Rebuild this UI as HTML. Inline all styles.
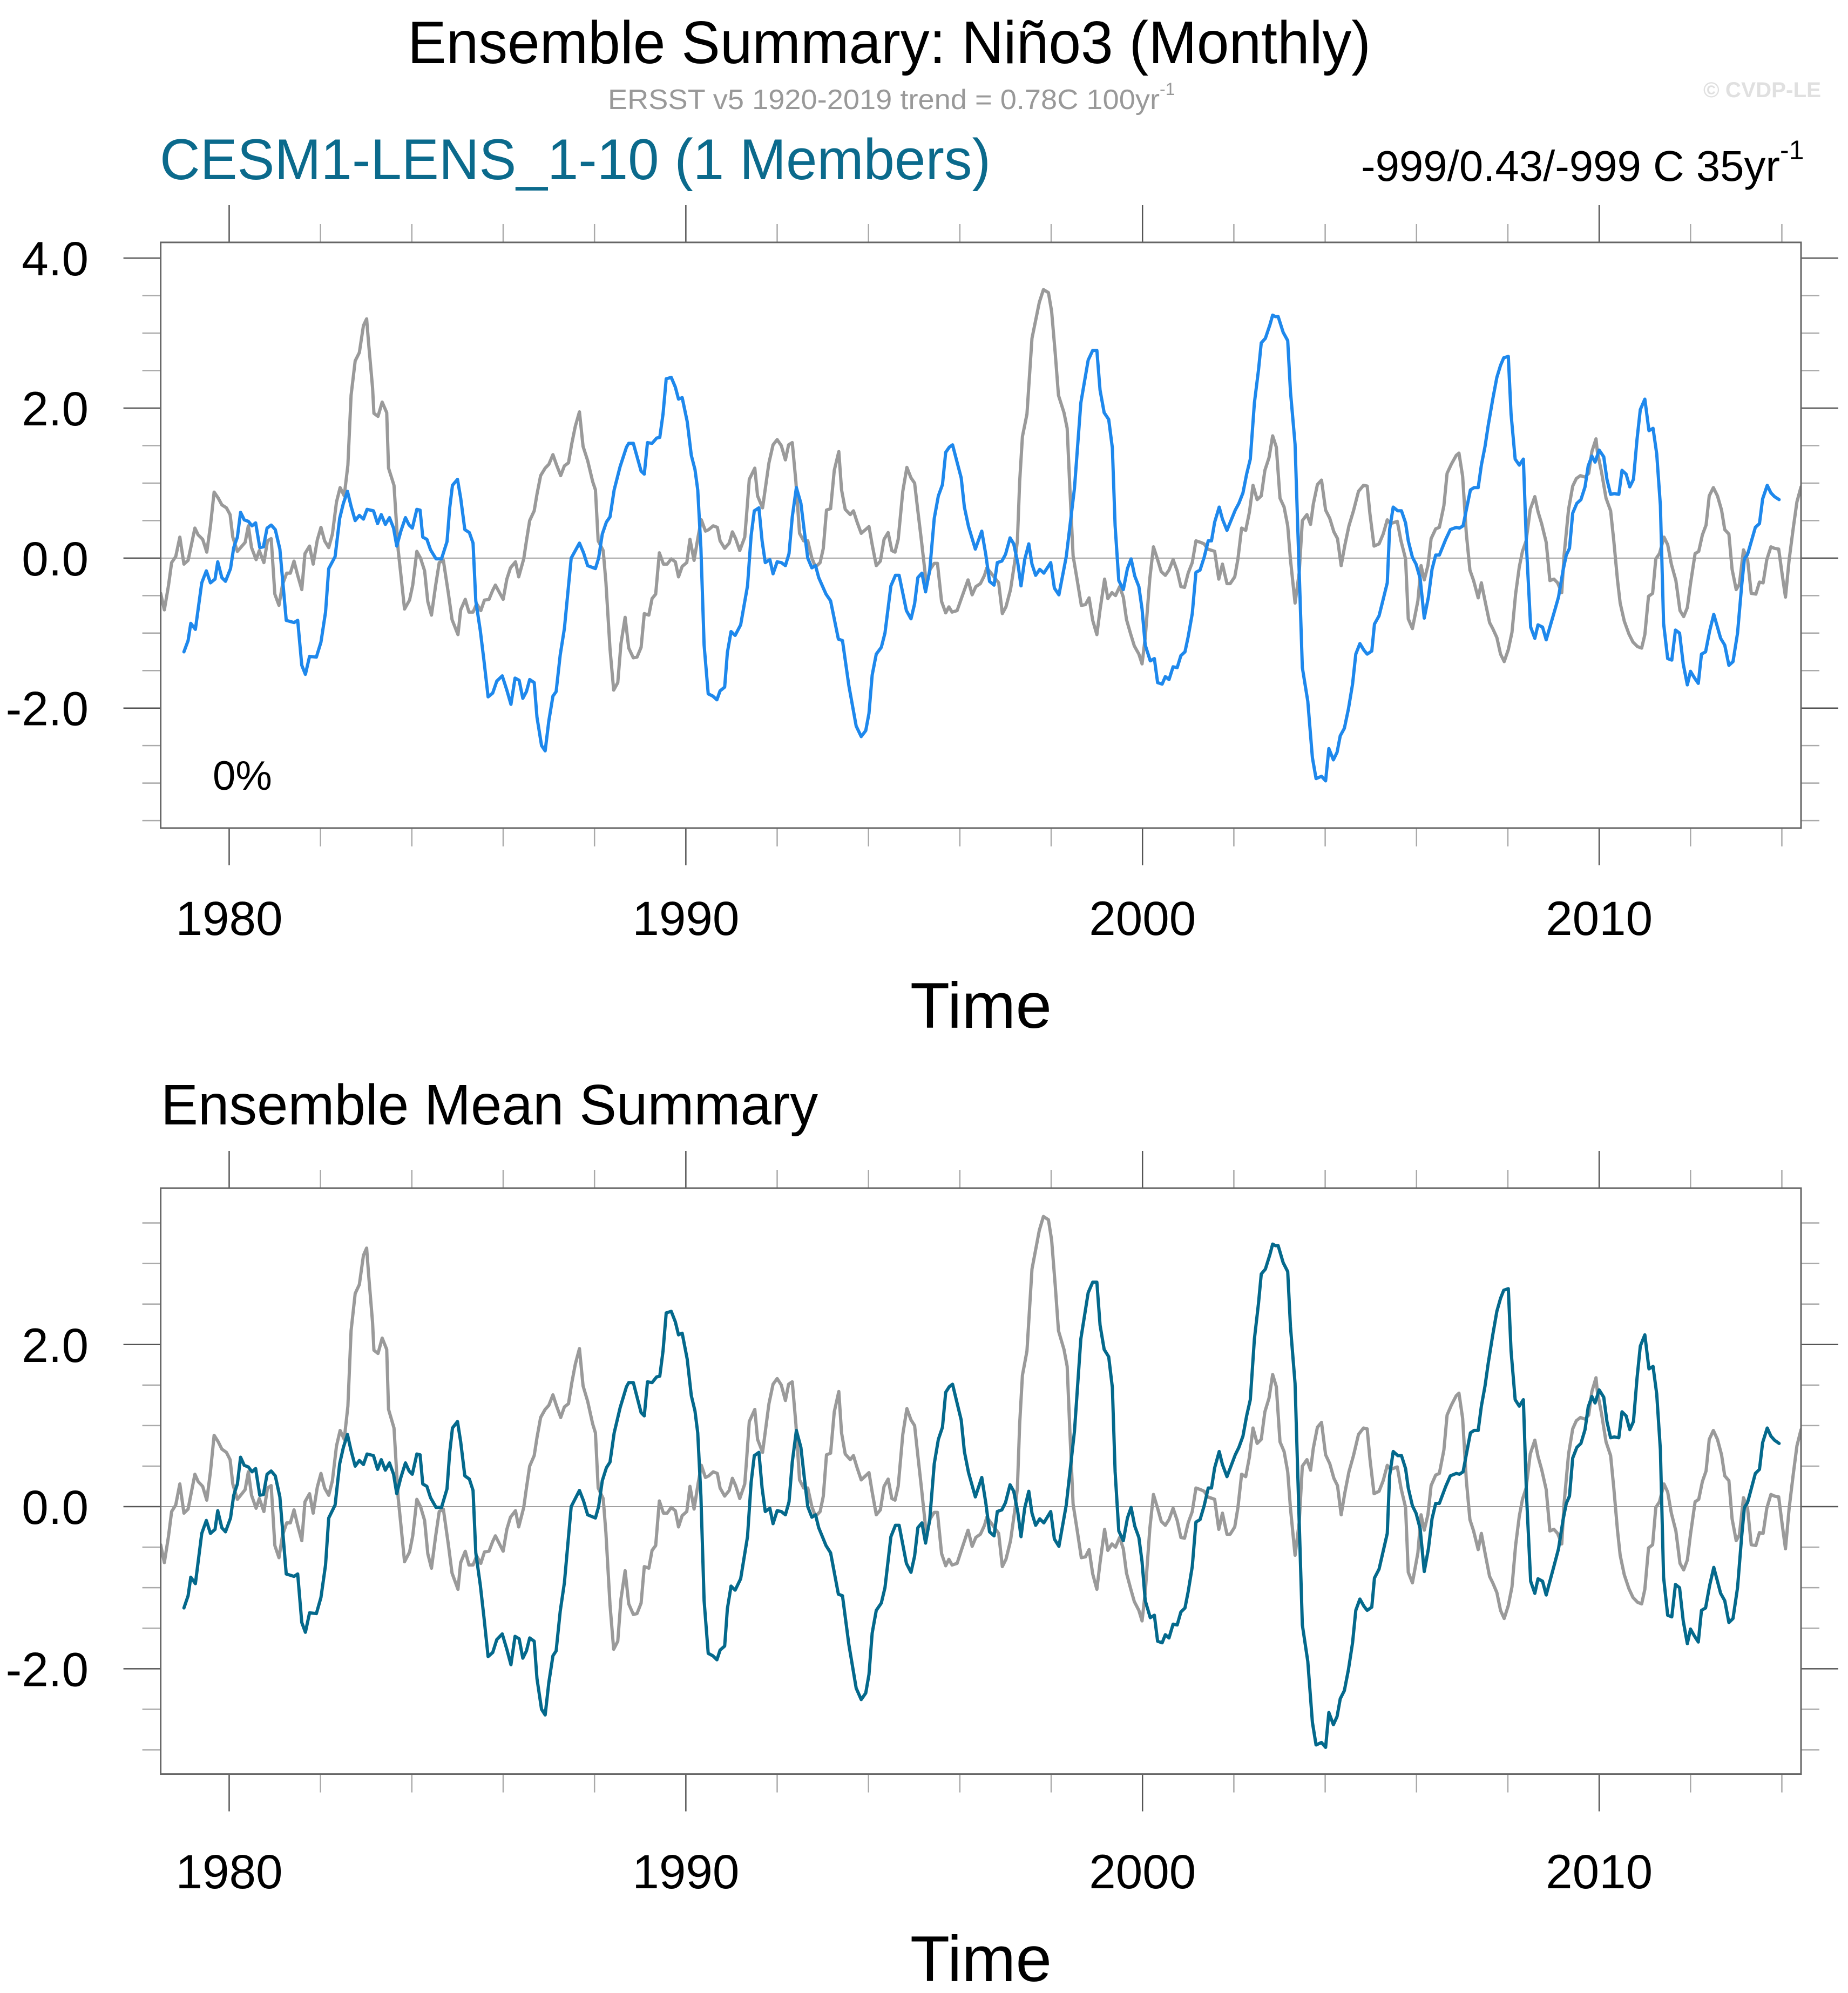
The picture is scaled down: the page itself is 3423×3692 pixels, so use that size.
<!DOCTYPE html>
<html><head><meta charset="utf-8"><style>
html,body{margin:0;padding:0;background:#fff;}
svg{display:block;font-family:"Liberation Sans",Arial,sans-serif;}
</style></head><body>
<svg id="chart" xmlns="http://www.w3.org/2000/svg" width="3423" height="3692" viewBox="0 0 3423 3692">
<rect width="3423" height="3692" fill="#fff"/>
<text x="1647" y="117" font-size="111" text-anchor="middle" textLength="1784" lengthAdjust="spacingAndGlyphs">Ensemble Summary: Niño3 (Monthly)</text>
<text x="1126" y="202" font-size="52" fill="#999"><tspan textLength="1022" lengthAdjust="spacingAndGlyphs">ERSST v5 1920-2019 trend = 0.78C 100yr</tspan><tspan font-size="32" dy="-26">-1</tspan></text>
<text x="3155" y="180" font-size="40" font-weight="bold" fill="#e0e0e0" textLength="218" lengthAdjust="spacingAndGlyphs">© CVDP-LE</text>
<text x="296" y="332" font-size="107" fill="#0b6a8c" textLength="1539" lengthAdjust="spacingAndGlyphs">CESM1-LENS_1-10 (1 Members)</text>
<text x="2521" y="335" font-size="80"><tspan textLength="776" lengthAdjust="spacingAndGlyphs">-999/0.43/-999 C 35yr</tspan><tspan font-size="50" dy="-40">-1</tspan></text>
<text x="298" y="2083" font-size="106" textLength="1217" lengthAdjust="spacingAndGlyphs">Ensemble Mean Summary</text>
<text x="394" y="1463" font-size="76">0%</text>
<g id="p1"></g>
<g id="p2"></g>
</svg>
<script>
// Model (CESM1-LENS member) Niño3 anomaly: time (decimal year) and value (C)
const modelTime = [1979.01,1979.10,1979.16,1979.26,1979.40,1979.50,1979.59,1979.69,1979.75,1979.84,1979.92,1980.03,1980.10,1980.18,1980.25,1980.33,1980.42,1980.50,1980.58,1980.67,1980.75,1980.83,1980.92,1981.01,1981.11,1981.25,1981.42,1981.50,1981.59,1981.67,1981.76,1981.91,1982.01,1982.11,1982.18,1982.32,1982.42,1982.50,1982.59,1982.67,1982.76,1982.85,1982.94,1983.02,1983.16,1983.25,1983.33,1983.42,1983.51,1983.60,1983.67,1983.76,1983.86,1983.94,1984.01,1984.11,1984.18,1984.24,1984.33,1984.41,1984.53,1984.65,1984.77,1984.83,1984.89,1985.00,1985.07,1985.16,1985.26,1985.34,1985.40,1985.50,1985.58,1985.67,1985.77,1985.86,1985.98,1986.08,1986.17,1986.26,1986.35,1986.43,1986.51,1986.58,1986.68,1986.74,1986.84,1986.92,1987.00,1987.09,1987.16,1987.25,1987.34,1987.49,1987.67,1987.76,1987.85,1988.02,1988.09,1988.17,1988.26,1988.34,1988.43,1988.56,1988.70,1988.75,1988.85,1988.97,1989.02,1989.09,1989.16,1989.26,1989.36,1989.43,1989.50,1989.57,1989.68,1989.77,1989.84,1989.92,1990.03,1990.12,1990.20,1990.26,1990.33,1990.40,1990.49,1990.59,1990.68,1990.75,1990.85,1990.91,1990.99,1991.08,1991.20,1991.35,1991.43,1991.50,1991.60,1991.67,1991.74,1991.84,1991.91,1992.00,1992.09,1992.18,1992.26,1992.33,1992.42,1992.52,1992.60,1992.67,1992.76,1992.84,1992.91,1993.07,1993.17,1993.34,1993.43,1993.57,1993.73,1993.84,1993.94,1994.01,1994.08,1994.17,1994.28,1994.36,1994.49,1994.59,1994.67,1994.83,1994.93,1995.01,1995.08,1995.17,1995.25,1995.34,1995.44,1995.53,1995.62,1995.69,1995.77,1995.84,1995.93,1996.03,1996.10,1996.19,1996.34,1996.48,1996.57,1996.65,1996.75,1996.82,1996.92,1997.00,1997.10,1997.18,1997.27,1997.34,1997.42,1997.51,1997.58,1997.66,1997.75,1997.84,1997.99,1998.07,1998.17,1998.33,1998.51,1998.65,1998.81,1998.91,1999.00,1999.07,1999.16,1999.26,1999.34,1999.40,1999.48,1999.58,1999.67,1999.75,1999.83,1999.92,1999.99,2000.06,2000.17,2000.26,2000.33,2000.43,2000.50,2000.58,2000.67,2000.76,2000.84,2000.93,2001.00,2001.09,2001.17,2001.26,2001.35,2001.44,2001.51,2001.58,2001.68,2001.75,2001.85,2001.93,2002.03,2002.11,2002.20,2002.28,2002.36,2002.45,2002.54,2002.60,2002.69,2002.79,2002.85,2002.91,2002.97,2003.08,2003.18,2003.24,2003.34,2003.43,2003.50,2003.62,2003.72,2003.80,2003.92,2004.01,2004.08,2004.18,2004.26,2004.33,2004.42,2004.51,2004.60,2004.67,2004.76,2004.85,2004.92,2005.02,2005.08,2005.18,2005.25,2005.36,2005.41,2005.49,2005.59,2005.67,2005.76,2005.82,2005.91,2005.99,2006.08,2006.17,2006.26,2006.34,2006.42,2006.50,2006.64,2006.74,2006.87,2006.94,2007.02,2007.10,2007.18,2007.26,2007.35,2007.42,2007.50,2007.57,2007.67,2007.76,2007.84,2007.91,2008.01,2008.07,2008.16,2008.25,2008.34,2008.41,2008.50,2008.59,2008.66,2008.76,2008.84,2008.92,2009.03,2009.11,2009.21,2009.28,2009.35,2009.42,2009.51,2009.60,2009.69,2009.76,2009.84,2009.91,2010.00,2010.10,2010.17,2010.25,2010.33,2010.43,2010.50,2010.59,2010.67,2010.75,2010.83,2010.90,2011.00,2011.09,2011.18,2011.26,2011.34,2011.41,2011.50,2011.59,2011.67,2011.76,2011.84,2011.93,2012.00,2012.09,2012.17,2012.24,2012.33,2012.42,2012.51,2012.58,2012.66,2012.75,2012.84,2012.93,2013.03,2013.12,2013.18,2013.25,2013.33,2013.42,2013.51,2013.58,2013.68,2013.76,2013.84,2013.94];
const modelValues = [-1.25,-1.10,-0.87,-0.95,-0.33,-0.17,-0.33,-0.28,-0.05,-0.26,-0.31,-0.14,0.14,0.28,0.61,0.51,0.49,0.43,0.47,0.14,0.15,0.40,0.44,0.38,0.12,-0.83,-0.86,-0.83,-1.43,-1.55,-1.31,-1.32,-1.12,-0.72,-0.14,0.02,0.53,0.73,0.89,0.69,0.50,0.57,0.52,0.65,0.63,0.46,0.58,0.45,0.54,0.40,0.16,0.36,0.54,0.44,0.40,0.65,0.64,0.28,0.25,0.11,-0.01,-0.01,0.22,0.67,0.97,1.05,0.80,0.38,0.34,0.20,-0.57,-0.97,-1.37,-1.85,-1.80,-1.64,-1.57,-1.76,-1.95,-1.60,-1.63,-1.87,-1.78,-1.62,-1.66,-2.12,-2.50,-2.57,-2.17,-1.84,-1.78,-1.29,-0.94,0.0,0.20,0.07,-0.10,-0.14,0.0,0.32,0.48,0.55,0.91,1.22,1.48,1.53,1.53,1.27,1.16,1.12,1.54,1.53,1.60,1.61,1.92,2.39,2.41,2.28,2.12,2.14,1.82,1.37,1.18,0.91,0.13,-1.16,-1.81,-1.84,-1.89,-1.77,-1.72,-1.26,-0.98,-1.03,-0.89,-0.37,0.30,0.63,0.67,0.23,-0.06,-0.02,-0.21,-0.05,-0.06,-0.10,0.06,0.55,0.94,0.73,0.33,0.0,-0.13,-0.10,-0.26,-0.48,-0.57,-1.08,-1.10,-1.70,-2.24,-2.38,-2.30,-2.07,-1.56,-1.28,-1.19,-1.00,-0.37,-0.23,-0.23,-0.70,-0.81,-0.61,-0.26,-0.20,-0.45,-0.16,0.53,0.83,0.98,1.41,1.48,1.51,1.30,1.07,0.68,0.42,0.12,0.36,0.04,-0.31,-0.36,-0.06,-0.04,0.05,0.27,0.19,-0.07,-0.37,-0.02,0.19,-0.08,-0.23,-0.15,-0.20,-0.06,-0.40,-0.49,0.02,0.93,2.07,2.64,2.77,2.77,2.24,1.94,1.85,1.47,0.43,-0.30,-0.42,-0.14,-0.01,-0.24,-0.38,-0.68,-1.16,-1.37,-1.34,-1.66,-1.68,-1.58,-1.62,-1.45,-1.46,-1.30,-1.25,-1.05,-0.74,-0.19,-0.16,0.01,0.23,0.23,0.48,0.68,0.52,0.37,0.49,0.64,0.73,0.87,1.12,1.32,2.07,2.51,2.87,2.93,3.11,3.24,3.22,3.22,3.01,2.90,2.22,1.52,-0.17,-1.46,-1.91,-2.66,-2.94,-2.91,-2.97,-2.54,-2.69,-2.59,-2.37,-2.27,-2.01,-1.68,-1.28,-1.14,-1.23,-1.28,-1.24,-0.88,-0.77,-0.60,-0.33,0.38,0.68,0.63,0.63,0.47,0.23,0.01,-0.08,-0.27,-0.80,-0.52,-0.15,0.04,0.04,0.25,0.38,0.41,0.40,0.43,0.67,0.91,0.94,0.94,1.24,1.49,1.77,2.12,2.41,2.57,2.67,2.69,1.92,1.32,1.24,1.32,0.13,-0.92,-1.07,-0.89,-0.92,-1.09,-0.92,-0.69,-0.52,-0.16,0.04,0.13,0.60,0.73,0.78,0.95,1.23,1.36,1.28,1.44,1.35,1.05,0.85,0.86,0.85,1.17,1.12,0.95,1.05,1.59,1.98,2.12,1.70,1.73,1.39,0.70,-0.87,-1.34,-1.36,-0.96,-1.00,-1.41,-1.69,-1.51,-1.60,-1.67,-1.28,-1.25,-0.97,-0.75,-0.90,-1.07,-1.16,-1.43,-1.38,-1.00,-0.37,-0.01,0.05,0.22,0.41,0.46,0.79,0.97,0.87,0.82,0.78];
// Observations (ERSST v5) Niño3 anomaly
const obsTime = [1978.50,1978.58,1978.67,1978.74,1978.83,1978.92,1979.01,1979.10,1979.25,1979.32,1979.42,1979.51,1979.59,1979.67,1979.76,1979.84,1979.94,1980.02,1980.08,1980.18,1980.35,1980.42,1980.49,1980.59,1980.66,1980.76,1980.84,1980.92,1981.00,1981.09,1981.17,1981.26,1981.34,1981.42,1981.50,1981.59,1981.66,1981.76,1981.84,1981.93,1982.01,1982.09,1982.18,1982.26,1982.35,1982.43,1982.52,1982.60,1982.67,1982.76,1982.85,1982.94,1983.01,1983.06,1983.14,1983.17,1983.26,1983.35,1983.45,1983.49,1983.61,1983.70,1983.76,1983.84,1983.95,1984.02,1984.11,1984.19,1984.28,1984.35,1984.43,1984.52,1984.60,1984.69,1984.80,1984.88,1985.01,1985.07,1985.17,1985.25,1985.34,1985.42,1985.51,1985.59,1985.69,1985.77,1985.83,1986.00,1986.08,1986.16,1986.27,1986.34,1986.45,1986.51,1986.58,1986.68,1986.74,1986.82,1986.92,1987.00,1987.09,1987.17,1987.26,1987.34,1987.43,1987.50,1987.58,1987.67,1987.75,1987.85,1987.96,1988.02,1988.08,1988.19,1988.25,1988.34,1988.42,1988.51,1988.58,1988.67,1988.75,1988.85,1988.93,1989.02,1989.09,1989.19,1989.26,1989.34,1989.42,1989.51,1989.59,1989.68,1989.77,1989.84,1989.92,1990.02,1990.09,1990.18,1990.27,1990.34,1990.43,1990.50,1990.60,1990.69,1990.75,1990.85,1990.95,1991.02,1991.09,1991.18,1991.29,1991.33,1991.39,1991.51,1991.57,1991.68,1991.82,1991.91,1992.00,1992.09,1992.18,1992.25,1992.33,1992.41,1992.49,1992.58,1992.67,1992.76,1992.84,1992.94,1993.01,1993.08,1993.17,1993.25,1993.35,1993.41,1993.49,1993.60,1993.67,1993.75,1993.84,1994.01,1994.08,1994.17,1994.26,1994.34,1994.43,1994.51,1994.58,1994.65,1994.75,1994.84,1994.93,1995.01,1995.08,1995.16,1995.27,1995.35,1995.44,1995.51,1995.60,1995.69,1995.76,1995.83,1995.94,1996.05,1996.18,1996.27,1996.35,1996.45,1996.54,1996.59,1996.71,1996.85,1996.93,1997.01,1997.11,1997.21,1997.26,1997.31,1997.37,1997.47,1997.58,1997.74,1997.83,1997.94,1998.01,1998.09,1998.16,1998.28,1998.35,1998.41,1998.48,1998.58,1998.66,1998.75,1998.83,1998.91,1999.00,1999.07,1999.17,1999.24,1999.33,1999.41,1999.50,1999.58,1999.65,1999.74,1999.82,1999.92,1999.99,2000.06,2000.16,2000.24,2000.33,2000.41,2000.50,2000.58,2000.67,2000.76,2000.84,2000.92,2001.00,2001.09,2001.17,2001.27,2001.35,2001.43,2001.58,2001.67,2001.75,2001.85,2001.92,2002.02,2002.09,2002.17,2002.26,2002.34,2002.42,2002.51,2002.60,2002.68,2002.77,2002.85,2002.93,2003.01,2003.10,2003.18,2003.24,2003.34,2003.43,2003.50,2003.60,2003.68,2003.74,2003.83,2003.92,2004.01,2004.10,2004.19,2004.27,2004.35,2004.43,2004.52,2004.62,2004.73,2004.84,2004.92,2004.98,2005.07,2005.18,2005.27,2005.36,2005.43,2005.58,2005.66,2005.76,2005.82,2005.91,2006.03,2006.10,2006.17,2006.25,2006.32,2006.42,2006.50,2006.60,2006.67,2006.76,2006.87,2006.93,2007.01,2007.09,2007.17,2007.25,2007.35,2007.42,2007.51,2007.60,2007.67,2007.76,2007.84,2007.92,2008.01,2008.09,2008.17,2008.25,2008.32,2008.40,2008.49,2008.59,2008.66,2008.74,2008.84,2008.92,2009.01,2009.09,2009.18,2009.23,2009.33,2009.42,2009.50,2009.59,2009.69,2009.77,2009.84,2009.93,2009.96,2010.05,2010.15,2010.25,2010.32,2010.40,2010.46,2010.55,2010.65,2010.74,2010.84,2010.93,2011.00,2011.08,2011.17,2011.24,2011.32,2011.42,2011.50,2011.58,2011.68,2011.77,2011.85,2011.93,2012.00,2012.10,2012.18,2012.26,2012.34,2012.41,2012.50,2012.59,2012.68,2012.75,2012.84,2012.91,2013.00,2013.07,2013.16,2013.25,2013.33,2013.43,2013.51,2013.59,2013.67,2013.76,2013.84,2013.93,2014.01,2014.08,2014.16,2014.25,2014.33,2014.42];
const obsValues = [-0.47,-0.69,-0.37,-0.06,0.02,0.28,-0.08,-0.03,0.40,0.31,0.25,0.08,0.43,0.88,0.80,0.71,0.67,0.58,0.28,0.09,0.21,0.43,0.14,-0.02,0.10,-0.06,0.23,0.26,-0.48,-0.63,-0.35,-0.20,-0.20,-0.04,-0.23,-0.42,0.06,0.16,-0.08,0.24,0.41,0.23,0.14,0.32,0.75,0.94,0.83,1.24,2.17,2.63,2.74,3.10,3.19,2.82,2.27,1.93,1.89,2.08,1.94,1.20,0.97,0.11,-0.22,-0.68,-0.56,-0.36,0.09,0.0,-0.17,-0.58,-0.76,-0.37,-0.06,-0.03,-0.47,-0.82,-1.02,-0.69,-0.55,-0.72,-0.72,-0.61,-0.70,-0.56,-0.55,-0.43,-0.36,-0.55,-0.28,-0.13,-0.05,-0.25,-0.01,0.23,0.50,0.63,0.85,1.10,1.20,1.25,1.38,1.24,1.10,1.23,1.27,1.52,1.76,1.95,1.49,1.30,1.02,0.91,0.23,0.10,-0.32,-1.21,-1.76,-1.66,-1.14,-0.79,-1.20,-1.33,-1.32,-1.19,-0.74,-0.76,-0.54,-0.48,0.07,-0.08,-0.08,-0.01,-0.05,-0.25,-0.11,-0.06,0.25,-0.03,0.29,0.51,0.36,0.38,0.43,0.41,0.23,0.13,0.20,0.35,0.26,0.10,0.28,0.58,1.05,1.20,0.83,0.67,1.27,1.51,1.58,1.50,1.31,1.51,1.54,1.02,0.33,0.23,0.23,0.0,-0.12,-0.06,0.13,0.64,0.66,1.17,1.42,0.91,0.65,0.58,0.63,0.48,0.33,0.42,0.18,-0.10,-0.04,0.25,0.34,0.10,0.08,0.25,0.89,1.21,1.07,1.00,0.63,0.23,-0.36,-0.15,-0.07,-0.07,-0.58,-0.73,-0.65,-0.72,-0.70,-0.51,-0.29,-0.49,-0.38,-0.34,-0.23,-0.13,-0.22,-0.33,-0.74,-0.65,-0.42,-0.02,0.23,1.02,1.62,1.92,2.93,3.41,3.58,3.54,3.29,2.72,2.17,1.94,1.73,0.93,0.03,-0.33,-0.63,-0.62,-0.53,-0.83,-1.02,-0.69,-0.28,-0.54,-0.46,-0.50,-0.38,-0.52,-0.82,-1.01,-1.17,-1.28,-1.41,-1.06,-0.27,0.15,-0.02,-0.18,-0.23,-0.16,-0.02,-0.17,-0.38,-0.39,-0.20,-0.06,0.23,0.21,0.19,0.12,0.09,-0.28,-0.08,-0.34,-0.34,-0.25,-0.01,0.40,0.37,0.61,0.97,0.78,0.83,1.17,1.34,1.63,1.48,0.80,0.68,0.43,-0.02,-0.60,-0.20,0.50,0.58,0.45,0.72,0.98,1.04,0.64,0.53,0.35,0.26,-0.10,0.17,0.43,0.63,0.89,0.97,0.96,0.59,0.16,0.19,0.32,0.51,0.46,0.49,0.23,-0.01,-0.81,-0.94,-0.57,-0.10,-0.29,-0.10,0.26,0.39,0.41,0.70,1.13,1.25,1.37,1.40,1.09,0.33,-0.16,-0.30,-0.53,-0.33,-0.60,-0.86,-0.94,-1.06,-1.28,-1.38,-1.22,-0.99,-0.48,-0.12,0.09,0.23,0.65,0.82,0.62,0.46,0.21,-0.30,-0.28,-0.33,-0.46,0.03,0.65,0.96,1.06,1.10,1.08,1.13,1.42,1.59,1.42,1.15,0.80,0.63,0.23,-0.29,-0.60,-0.84,-1.01,-1.12,-1.18,-1.20,-1.02,-0.51,-0.47,-0.01,0.06,0.28,0.18,-0.08,-0.30,-0.70,-0.78,-0.66,-0.34,0.06,0.09,0.31,0.44,0.83,0.94,0.83,0.64,0.38,0.32,-0.15,-0.42,-0.35,0.11,-0.02,-0.47,-0.48,-0.32,-0.33,-0.02,0.15,0.13,0.12,-0.23,-0.52,-0.02,0.40,0.75,0.95];
const xTickYears = [1980, 1990, 2000, 2010];
const xTickLabels = ["1980", "1990", "2000", "2010"];
const topYTicks = [4, 2, 0, -2];
const topYTickLabels = ["4.0", "2.0", "0.0", "-2.0"];
const botYTicks = [2, 0, -2];
const botYTickLabels = ["2.0", "0.0", "-2.0"];

const NS = "http://www.w3.org/2000/svg";
const X0 = 297.6, X1 = 3336, T0 = 1978.5, T1 = 2014.42;
function xScale(t){ return X0 + (t - T0) / (T1 - T0) * (X1 - X0); }
function mk(tag, attrs, parent){
  const el = document.createElementNS(NS, tag);
  for (const k in attrs) el.setAttribute(k, attrs[k]);
  parent.appendChild(el);
  return el;
}
function panel(gid, top, bottom, vmax, vmin, ticks, tickLabels, modelColor, labelBase){
  const g = document.getElementById(gid);
  const yScale = v => top + (vmax - v) / (vmax - vmin) * (bottom - top);
  // zero line
  const z = mk("line", {x1:X0, x2:X1, y1:yScale(0), y2:yScale(0), stroke:"#a0a0a0", "stroke-width":2}, g);
  
  
  // minor/major y ticks every 0.5
  for (let v = Math.ceil(vmin*2)/2; v <= vmax + 1e-9; v += 0.5) {
    const y = yScale(v);
    const major = Math.abs(v/2 - Math.round(v/2)) < 1e-9;
    const L = major ? 69 : 34;
    const tl = mk("line", {x1:X0-L, x2:X0, y1:y, y2:y, stroke: major ? "#555" : "#aaa", "stroke-width":2.5}, g);
    
    
    const tr = mk("line", {x1:X1, x2:X1+L, y1:y, y2:y, stroke: major ? "#555" : "#aaa", "stroke-width":2.5}, g);
    
    
  }
  // x ticks every 2 years
  for (let yr = 1980; yr <= 2014; yr += 2) {
    const x = xScale(yr);
    const major = yr % 10 === 0;
    const L = major ? 69 : 34;
    const tb = mk("line", {x1:x, x2:x, y1:bottom, y2:bottom+L, stroke: major ? "#555" : "#aaa", "stroke-width":2.5}, g);
    
    
    const tt = mk("line", {x1:x, x2:x, y1:top-L, y2:top, stroke: major ? "#555" : "#aaa", "stroke-width":2.5}, g);
    
    
  }
  // y labels
  ticks.forEach((v, i) => {
    const t = mk("text", {x:164, y:yScale(v)+32, "font-size":89, "text-anchor":"end"}, g);
    t.textContent = tickLabels[i];
    
    
  });
  // x labels
  xTickYears.forEach((yr, i) => {
    const t = mk("text", {x:xScale(yr), y:labelBase, "font-size":89, "text-anchor":"middle"}, g);
    t.textContent = xTickLabels[i];
    
    
  });
  const xt = mk("text", {x:1817, y:labelBase+172, "font-size":120, "text-anchor":"middle"}, g);
  xt.textContent = "Time";
  
  
  // series
  const clipId = gid + "clip";
  const cp = mk("clipPath", {id: clipId}, g);
  mk("rect", {x:X0, y:top, width:X1-X0, height:bottom-top}, cp);
  const pts = (ts, vs) => ts.map((t, i) => xScale(t).toFixed(1) + "," + yScale(vs[i]).toFixed(1)).join(" ");
  const o = mk("polyline", {points: pts(obsTime, obsValues), fill:"none", stroke:"#9a9a9a", "stroke-width":6, "stroke-linejoin":"round", "stroke-linecap":"round", "clip-path":"url(#"+clipId+")"}, g);
  
  
  const m = mk("polyline", {points: pts(modelTime, modelValues), fill:"none", stroke:modelColor, "stroke-width":6, "stroke-linejoin":"round", "stroke-linecap":"round", "clip-path":"url(#"+clipId+")"}, g);
  
  
  // frame
  const f = mk("rect", {x:X0, y:top, width:X1-X0, height:bottom-top, fill:"none", stroke:"#666", "stroke-width":3}, g);
  
  
}
panel("p1", 449, 1534, 4.21, -3.60, topYTicks, topYTickLabels, "#1e88ec", 1732);
panel("p2", 2201, 3286.5, 3.93, -3.30, botYTicks, botYTickLabels, "#04698c", 3498);
</script>
</body></html>
